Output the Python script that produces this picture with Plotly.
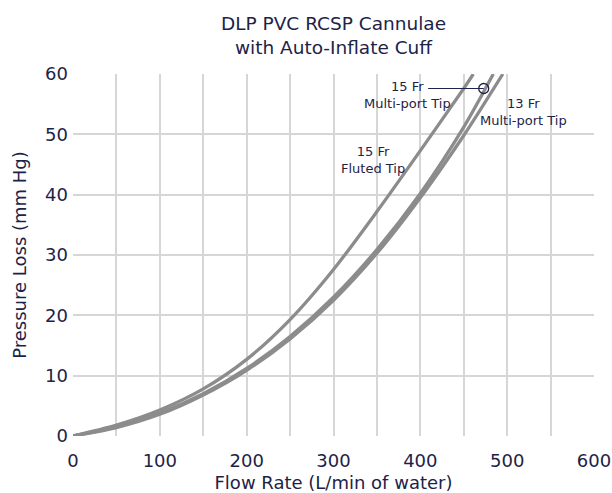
import plotly.graph_objects as go

# ---- data ----
fluted_x = [0, 50, 100, 150, 200, 250, 300, 350, 400, 450, 461]
fluted_y = [0, 1.8, 4.3, 7.8, 12.7, 19.3, 27.6, 37.2, 47.3, 57.6, 60]

mp15_x = [0, 50, 100, 150, 200, 250, 300, 350, 400, 450, 484]
mp15_y = [0, 1.5, 3.8, 7.0, 11.2, 16.5, 23.0, 30.9, 40.2, 51.2, 60]

mp13_x = [0, 50, 100, 150, 200, 250, 300, 350, 400, 450, 495]
mp13_y = [0, 1.4, 3.6, 6.8, 10.9, 16.1, 22.5, 30.3, 39.5, 49.8, 60]

callout_x = [409, 473]
callout_y = [57.6, 57.6]

x_ticks = [0, 100, 200, 300, 400, 500, 600]
y_ticks = [0, 10, 20, 30, 40, 50, 60]
x_grid = [50, 100, 150, 200, 250, 300, 350, 400, 450, 500, 550]
y_grid = [10, 20, 30, 40, 50]

labels = [
    ("15 Fr<br>Multi-port Tip", 385, 56.6),
    ("13 Fr<br>Multi-port Tip", 519, 53.7),
    ("15 Fr<br>Fluted Tip", 345, 45.7),
]

NAVY = "#1d2347"
GRAY = "#8c8c8c"
FONT = "DejaVu Sans"

fig = go.Figure()
for xs, ys in [(fluted_x, fluted_y), (mp15_x, mp15_y), (mp13_x, mp13_y)]:
    fig.add_trace(go.Scatter(x=xs, y=ys, mode="lines",
                             line=dict(color=GRAY, width=3.3, shape="spline", smoothing=0.8),
                             hoverinfo="skip", showlegend=False))

fig.add_trace(go.Scatter(x=callout_x, y=callout_y, mode="lines",
                         line=dict(color=NAVY, width=1.2), showlegend=False, hoverinfo="skip"))
fig.add_trace(go.Scatter(x=[callout_x[-1]], y=[callout_y[-1]], mode="markers",
                         marker=dict(symbol="circle-open", size=10, color=NAVY,
                                     line=dict(color=NAVY, width=1.3)),
                         showlegend=False, hoverinfo="skip"))

for text, x, y in labels:
    fig.add_annotation(x=x, y=y, text=text, showarrow=False,
                       font=dict(family=FONT, size=13, color=NAVY), align="center")

fig.update_layout(
    width=612, height=493,
    margin=dict(l=73, r=18, t=74, b=57),
    paper_bgcolor="white", plot_bgcolor="white",
    font=dict(family=FONT, color=NAVY, size=18),
    title=dict(text="DLP PVC RCSP Cannulae<br>with Auto-Inflate Cuff",
               x=0.5, xref="paper", xanchor="center", y=0.94, yref="container", yanchor="top",
               font=dict(family=FONT, size=18.5, color=NAVY)),
    xaxis=dict(range=[0, 600], tickvals=x_ticks, showgrid=False, zeroline=False,
               showline=False, ticks="", ticklabelstandoff=12, automargin=False,
               tickfont=dict(size=18, color=NAVY),
               title=dict(text="Flow Rate (L/min of water)", standoff=10,
                          font=dict(size=18, color=NAVY)),
               minor=dict(tickvals=x_grid, showgrid=True, gridcolor="#d6d6d6", gridwidth=1.5, ticks="")),
    yaxis=dict(range=[0, 60], tickvals=y_ticks, showgrid=False, zeroline=False,
               showline=False, ticks="", automargin=False, ticklabelstandoff=4,
               tickfont=dict(size=18, color=NAVY),
               title=dict(text="Pressure Loss (mm Hg)", standoff=13,
                          font=dict(size=18, color=NAVY)),
               minor=dict(tickvals=y_grid, showgrid=True, gridcolor="#d6d6d6", gridwidth=1.5, ticks="")),
)

fig.write_html("out.html", config={"displayModeBar": False},
               post_script="document.body.style.margin='0';document.body.style.padding='0';")
